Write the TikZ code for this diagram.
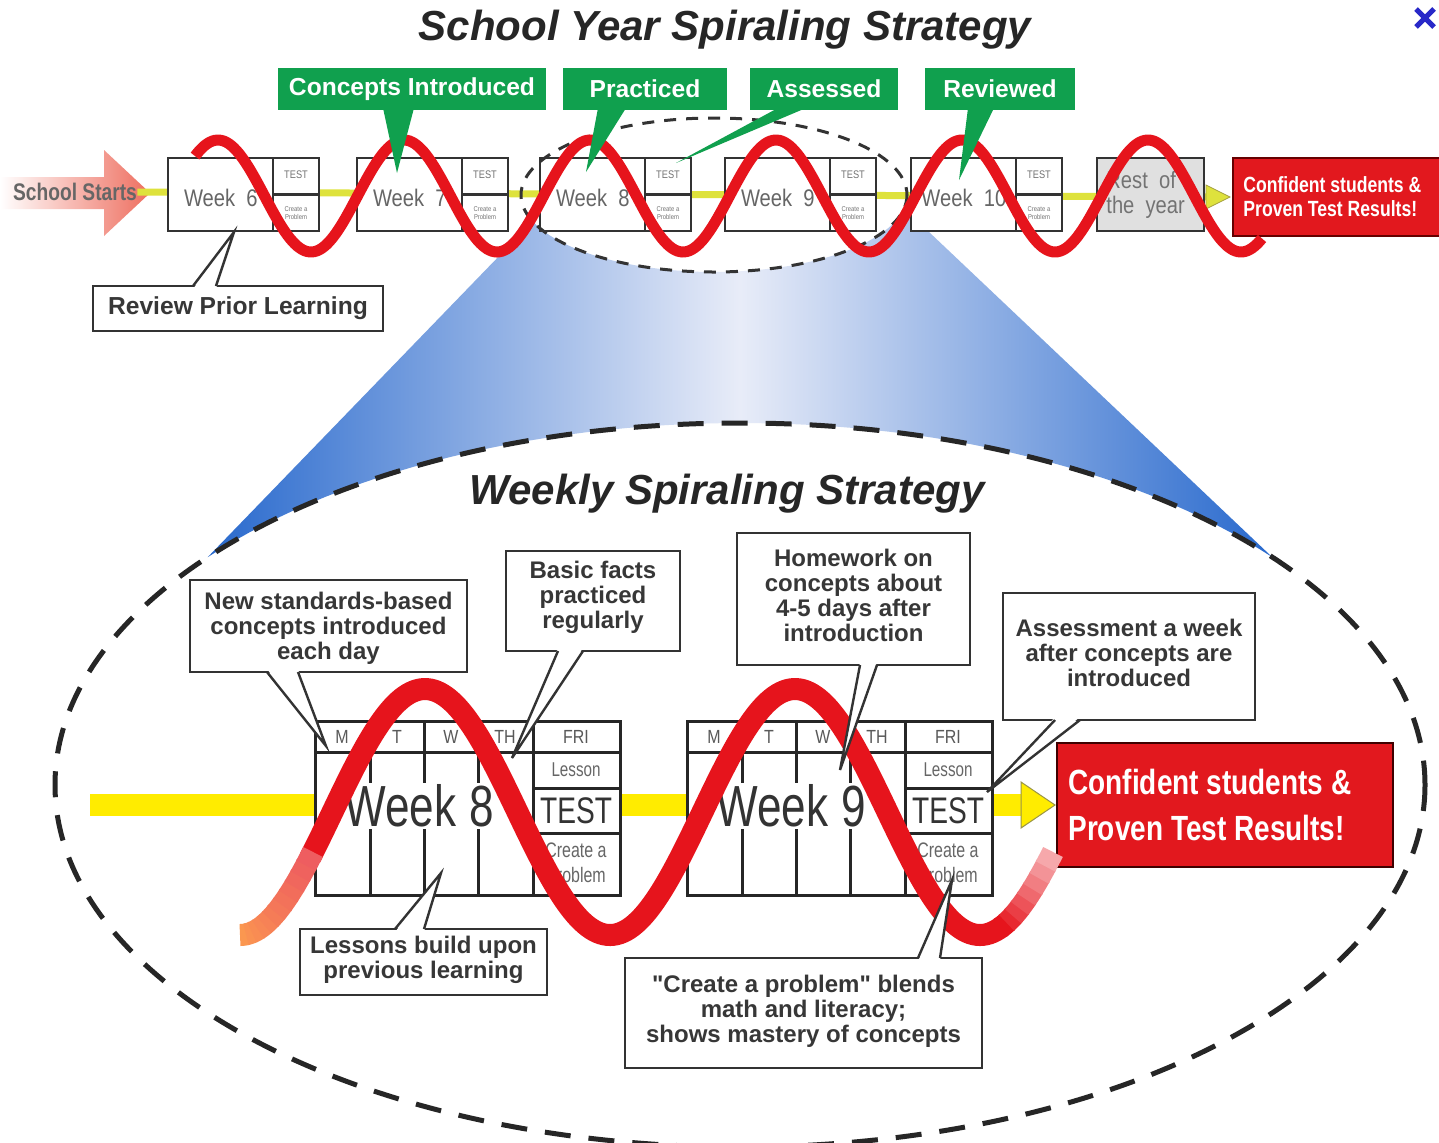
\documentclass[tikz,border=0pt]{standalone}
\usepackage{fontspec}
\setmainfont{Liberation Sans}[Ligatures=TeXOff]
\newfontfamily\cnA[FakeStretch=0.76]{Liberation Sans}
\newfontfamily\cnB[FakeStretch=0.84]{Liberation Sans}
\newfontfamily\cnBold[FakeStretch=0.8]{Liberation Sans Bold}
\usetikzlibrary{calc,fit}
\definecolor{gbg}{RGB}{16,160,78}
\definecolor{rbox}{RGB}{226,24,30}
\definecolor{wavered}{RGB}{230,20,28}
\definecolor{ytop}{RGB}{222,226,60}
\definecolor{ybot}{RGB}{255,236,0}
\definecolor{bluedark}{RGB}{40,105,205}
\definecolor{bluelight}{RGB}{232,236,248}
\definecolor{txt}{RGB}{55,55,55}
\definecolor{arrowpink}{RGB}{238,110,95}
\newcommand\fs[2]{\fontsize{#1}{#2}\selectfont}
\newcommand\cptr[6]{%
  \fill[white] ($(#1.#2)+(#3,#6)$) -- (#5) -- ($(#1.#2)+(#4,#6)$) -- cycle;
  \draw[ptr] ($(#1.#2)+(#3,0)$) -- (#5) -- ($(#1.#2)+(#4,0)$);
}
\newcommand\gptr[4]{%
  \fill[gbg] ($(#1.south west)+(#2,-2)$) -- (#4) -- ($(#1.south west)+(#3,-2)$) -- cycle;
}
\begin{document}
\begin{tikzpicture}[x=0.5pt,y=-0.5pt,
  wk/.style={draw=black!80, line width=1.25pt, fill=white, inner sep=0pt, outer sep=0pt},
  wkline/.style={draw=black!80, line width=1.25pt},
  tbl/.style={draw=black!85, line width=1.5pt, fill=white, inner sep=0pt, outer sep=0pt},
  tgrid/.style={draw=black!85, line width=1.5pt},
  cbox/.style={draw=black!80, line width=1.2pt, fill=white, inner sep=0pt, outer sep=0pt},
  ctext/.style={inner sep=0pt, align=center, text=txt, font=\bfseries\fs{12}{12.5}},
  ptr/.style={draw=black!80, line width=1.2pt, line join=miter},
  glabel/.style={fill=gbg, inner sep=0pt, outer sep=0pt},
  gtext/.style={inner sep=0pt, text=white, font=\bfseries\fs{12.3}{13}},
  ttl/.style={font=\bfseries\itshape\fs{21}{24}, text=black!85, inner sep=0pt},
  hdr/.style={font=\cnB\fs{9.5}{10}, text=black!65, inner sep=0pt},
  cell/.style={font=\cnA\fs{10.5}{12.5}, text=black!60, inner sep=0pt, align=center},
  bigdash/.style={draw=black!85, line width=2.5pt, dash pattern=on 13pt off 9pt},
  smalldash/.style={draw=black!80, line width=1.5pt, dash pattern=on 6pt off 5pt},
]
\useasboundingbox (0,0) rectangle (1439,1142);
\clip (0,0) rectangle (1439,1142);
\fill[white] (0,0) rectangle (1439,1142);

% ---------- titles ----------
\node[ttl] (t1) at (725,30) {School Year Spiraling Strategy};
\node[ttl] (t2) at (727,494) {Weekly Spiraling Strategy};
\draw[draw={rgb,255:red,40;green,40;blue,200}, line width=2.5pt] (1416,9) -- (1434,27) (1434,9) -- (1416,27);

% ---------- blue zoom funnel ----------
\shade[left color=bluedark, right color=bluedark, middle color=bluelight]
  (533,221) -- plot[domain=-141:-39, samples=60] ({740+685*cos(\x)},{785+362*sin(\x)})
  -- plot[domain=10:160, samples=40] ({714+193*cos(\x)},{195+77*sin(\x)}) -- cycle;
\draw[bigdash] (740,785) ellipse [x radius=685, y radius=362];

% ---------- top row ----------
\shade[left color=white, right color=arrowpink] (0,177) -- (104,177) -- (104,150) -- (150,193) -- (104,236) -- (104,209) -- (0,209) -- cycle;
\node[inner sep=0pt, font=\cnBold\fs{12}{13}, text=black!60] (ss) at (75,192) {School Starts};
\node[fit={(1233,158)(1445,236)}, fill=rbox, draw=black!60!red, line width=1pt, inner sep=0pt, outer sep=0pt] (r1) {};
\node[anchor=west, inner sep=0pt, text=white, font=\cnBold\fs{11}{12}, align=left] at ($(r1.west)+(10,0)$) {Confident students \&\\Proven Test Results!};
\draw[ytop, line width=3.5pt] (ss.east) -- ($(r1.west)+(-24,0)$);
\fill[ytop, draw=yellow!60!black, line width=0.4pt] ($(r1.west)+(-27,-12)$) -- ($(r1.west)+(-3,0)$) -- ($(r1.west)+(-27,12)$) -- cycle;

\foreach \n/\xl in {6/168, 7/357, 8/540, 9/725, 10/911} {
  \node[wk, fit={(\xl,158)(\xl+151,231)}] (w\n) {};
  \draw[wkline] ($(w\n.north east)+(-46,0)$) -- ($(w\n.south east)+(-46,0)$);
  \draw[wkline] ($(w\n.east)+(-46,0)$) -- (w\n.east);
  \node[font=\cnB\fs{12}{13}, text=black!60, inner sep=0pt] at ($(w\n.west)!0.35!(w\n.east)+(0,3)$) {Week\ \ \n};
  \node[font=\cnB\fs{5.5}{6}, text=black!55, inner sep=0pt] at ($(w\n.north east)+(-23,17)$) {TEST};
  \node[font=\cnB\fs{3.5}{4}, text=black!55, inner sep=0pt, align=center] at ($(w\n.south east)+(-23,-18)$) {Create a\\Problem};
}
\node[wk, fill=black!12, fit={(1097,158)(1204,231)}] (rest) {};
\node[anchor=west, inner sep=0pt, font=\cnB\fs{12}{12.5}, text=black!55, align=left] at ($(rest.west)+(9,0)$) {Rest\ \ of\\the\ \ year};

\draw[smalldash] (714,195) ellipse [x radius=193, y radius=77];

\draw[draw=wavered, line width=5.5pt] plot[domain=195:1262, samples=220, smooth] (\x,{196-56*cos((\x-218)/186*360)});

\node[cbox, fit={(93,286)(383,331)}] (rpl) {};
\node[ctext, font=\bfseries\fs{12.3}{13}] at (rpl.center) {Review Prior Learning};
\coordinate (rplt) at (234,232);
\cptr{rpl}{north west}{100}{123}{rplt}{3}

\node[glabel, fit={(278,68)(546,110)}] (g1) {};
\node[glabel, fit={(563,68)(727,110)}] (g2) {};
\node[glabel, fit={(750,68)(898,110)}] (g3) {};
\node[glabel, fit={(925,68)(1075,110)}] (g4) {};
\node[gtext] at (g1.center) {Concepts Introduced};
\node[gtext] at (g2.center) {Practiced};
\node[gtext] at (g3.center) {Assessed};
\node[gtext] at (g4.center) {Reviewed};
\coordinate (g1t) at (397,173);
\coordinate (g2t) at (586,172);
\coordinate (g3t) at (676,163);
\coordinate (g4t) at (959,180);
\gptr{g1}{105}{136}{g1t}
\gptr{g2}{35}{63}{g2t}
\gptr{g3}{28}{56}{g3t}
\gptr{g4}{43}{69}{g4t}

% ---------- weekly section ----------
\node[fit={(1057,743)(1393,867)}, fill=rbox, draw=black!75!red, line width=1.2pt, inner sep=0pt, outer sep=0pt] (r2) {};
\node[anchor=west, inner sep=0pt, text=white, font=\cnBold\fs{17.5}{23}, align=left] at ($(r2.west)+(11,0)$) {Confident students \&\\Proven Test Results!};
\coordinate (ys) at (90,805);
\draw[ybot, line width=11pt] (ys) -- ($(r2.west)+(-33,0)$);
\fill[ybot, draw=yellow!55!black, line width=0.5pt] ($(r2.west)+(-36,-23)$) -- ($(r2.west)+(-2,0)$) -- ($(r2.west)+(-36,23)$) -- cycle;

\foreach \n/\xl in {8/315, 9/687} {
  \node[tbl, fit={(\xl,721)(\xl+305,895)}] (t\n) {};
  \draw[tgrid] ($(t\n.north west)+(0,31)$) -- ($(t\n.north east)+(0,31)$);
  \foreach \c in {55,109,163,218}
    \draw[tgrid] ($(t\n.north west)+(\c,0)$) -- ($(t\n.south west)+(\c,0)$);
  \draw[tgrid] ($(t\n.north west)+(218,67)$) -- ($(t\n.north east)+(0,67)$);
  \draw[tgrid] ($(t\n.north west)+(218,112)$) -- ($(t\n.north east)+(0,112)$);
  \node[hdr] at (\xl+27,737) {M};
  \node[hdr] at (\xl+82,737) {T};
  \node[hdr] at (\xl+136,737) {W};
  \node[hdr] at (\xl+190,737) {TH};
  \node[hdr] at (\xl+261,737) {FRI};
  \node[cell, font=\cnA\fs{10}{11}] at (\xl+261,770) {Lesson};
  \node[cell, font=\cnA\fs{18.5}{20}, text=black!80] at (\xl+261,811) {TEST};
  \node[cell] at (\xl+261,863) {Create a\\Problem};
  \node[fill=white, inner xsep=1pt, inner ysep=1pt, font=\cnA\fs{29}{30}, text=black!80] at (\xl+104,806) {Week\hspace{6.5pt}\n};
}

% lower wave
\draw[draw=wavered, line width=11pt] plot[domain=310:1002, samples=220, smooth] (\x,{812-123*cos((\x-425)/370*360)});
\foreach \i in {0,...,11} {
  \pgfmathsetmacro\xa{240+6*\i}
  \pgfmathsetmacro\xb{\xa+7}
  \pgfmathsetmacro\pc{20+7*\i}
  \draw[draw=wavered!\pc!orange!70!white, line width=11pt] plot[domain=\xa:\xb, samples=4] (\x,{812-123*cos((\x-425)/370*360)});
}
\foreach \i in {0,...,7} {
  \pgfmathsetmacro\xa{1000+6.5*\i}
  \pgfmathsetmacro\xb{\xa+7.5}
  \pgfmathsetmacro\pc{100-9*\i}
  \draw[draw=wavered!\pc!white, line width=11pt] plot[domain=\xa:\xb, samples=4] (\x,{812-123*cos((\x-425)/370*360)});
}

% callouts
\node[cbox, fit={(190,580)(467,672)}] (c1) {};
\node[cbox, fit={(506,551)(680,651)}] (c2) {};
\node[cbox, fit={(737,533)(970,665)}] (c3) {};
\node[cbox, fit={(1003,593)(1255,720)}] (c4) {};
\node[cbox, fit={(300,929)(547,995)}] (c5) {};
\node[cbox, fit={(625,958)(982,1068)}] (c6) {};
\node[ctext] at ($(c1.center)+(0,2)$) {New standards-based\\concepts introduced\\each day};
\node[ctext] at ($(c2.center)+(0,-4)$) {Basic facts\\practiced\\regularly};
\node[ctext] at ($(c3.center)+(0,-4)$) {Homework on\\concepts about\\4-5 days after\\introduction};
\node[ctext] at ($(c4.center)+(0,-4)$) {Assessment a week\\after concepts are\\introduced};
\node[ctext] at ($(c5.center)+(0,-2)$) {Lessons build upon\\previous learning};
\node[ctext] at ($(c6.center)+(0,-2)$) {"Create a problem" blends\\math and literacy;\\shows mastery of concepts};
\coordinate (c1t) at (326,746);
\coordinate (c2t) at (512,758);
\coordinate (c3t) at (840,770);
\coordinate (c4t) at (987,792);
\coordinate (c5t) at (441,873);
\coordinate (c6t) at (952,880);
\cptr{c1}{south west}{77}{108}{c1t}{-3}
\cptr{c2}{south west}{52}{77}{c2t}{-3}
\cptr{c3}{south west}{123}{140}{c3t}{-3}
\cptr{c4}{south west}{52}{77}{c4t}{-3}
\cptr{c5}{north west}{95}{124}{c5t}{3}
\cptr{c6}{north west}{293}{315}{c6t}{3}
\end{tikzpicture}
\end{document}
